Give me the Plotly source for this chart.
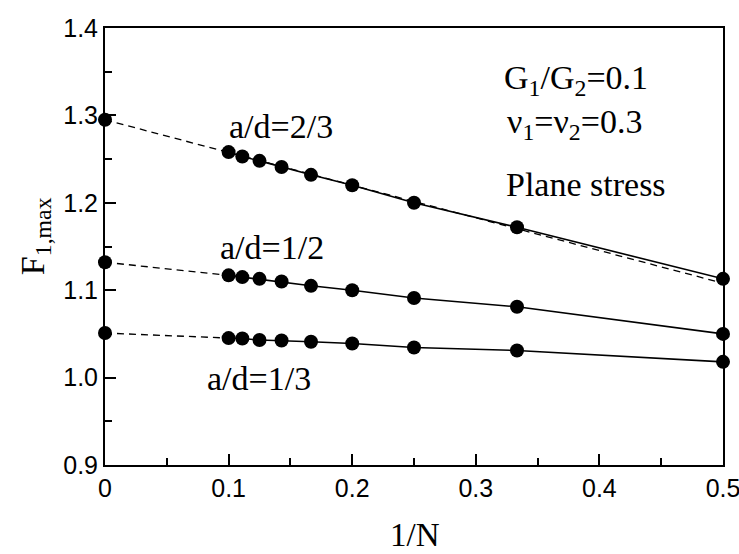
import plotly.graph_objects as go

# ---- data ----
inv_n = [0.1, 1/9, 0.125, 1/7, 1/6, 0.2, 0.25, 1/3, 0.5]          # 1/N
f_23 = [1.258, 1.253, 1.248, 1.241, 1.232, 1.220, 1.200, 1.172, 1.113]  # a/d=2/3
f_12 = [1.117, 1.115, 1.113, 1.110, 1.105, 1.100, 1.091, 1.081, 1.050]  # a/d=1/2
f_13 = [1.0452, 1.0447, 1.043, 1.0424, 1.041, 1.039, 1.0344, 1.031, 1.018]  # a/d=1/3

extrap_x = [0.0]
extrap_23 = [1.295]
extrap_12 = [1.132]
extrap_13 = [1.051]

fit_23_x = [0.0, 0.5]
fit_23_y = [1.295, 1.108]
fit_12_x = [0.0, 0.1]
fit_12_y = [1.132, 1.117]
fit_13_x = [0.0, 0.1]
fit_13_y = [1.051, 1.0452]

x_ticks = [0, 0.1, 0.2, 0.3, 0.4, 0.5]
x_tick_labels = ["0", "0.1", "0.2", "0.3", "0.4", "0.5"]
y_ticks = [0.9, 1.0, 1.1, 1.2, 1.3, 1.4]
y_tick_labels = ["0.9", "1.0", "1.1", "1.2", "1.3", "1.4"]

curve_labels = ["a/d=2/3", "a/d=1/2", "a/d=1/3"]

fig = go.Figure()

dash_style = dict(color="black", width=1.3, dash="7px,5px")
for fx, fy in [(fit_23_x, fit_23_y), (fit_12_x, fit_12_y), (fit_13_x, fit_13_y)]:
    fig.add_trace(go.Scatter(x=fx, y=fy, mode="lines", line=dash_style,
                             showlegend=False, hoverinfo="skip"))

for ys, e in [(f_23, extrap_23), (f_12, extrap_12), (f_13, extrap_13)]:
    fig.add_trace(go.Scatter(x=inv_n, y=ys, mode="lines+markers",
                             line=dict(color="black", width=1.6),
                             marker=dict(color="black", size=14),
                             cliponaxis=False, showlegend=False))
    fig.add_trace(go.Scatter(x=extrap_x, y=e, mode="markers",
                             marker=dict(color="black", size=14),
                             cliponaxis=False, showlegend=False))

serif = "Liberation Serif, Times New Roman, serif"
ann_font = dict(family=serif, size=34, color="black")

annotations = [
    dict(x=0.1425, y=1.287, text=curve_labels[0]),
    dict(x=0.135, y=1.149, text=curve_labels[1]),
    dict(x=0.1247, y=0.9995, text=curve_labels[2]),
    dict(x=0.381, y=1.3405, text="G<sub>1</sub>/G<sub>2</sub>=0.1"),
    dict(x=0.38, y=1.290, text="ν<sub>1</sub>=ν<sub>2</sub>=0.3"),
    dict(x=0.3895, y=1.2215, text="Plane stress"),
]
for a in annotations:
    fig.add_annotation(xref="x", yref="y", showarrow=False, font=ann_font,
                       xanchor="center", yanchor="middle", **a)

# axis titles
fig.add_annotation(xref="paper", yref="paper", x=-0.113, y=0.524,
                   xanchor="center", yanchor="middle",
                   text="F<sub>1,max</sub>", textangle=-90, showarrow=False,
                   font=dict(family=serif, size=34, color="black"))
fig.add_annotation(xref="paper", yref="paper", x=0.502, y=-0.16,
                   xanchor="center", yanchor="middle",
                   text="1/N", showarrow=False,
                   font=dict(family=serif, size=33, color="black"))

tick_font = dict(family="Liberation Sans, Arial, sans-serif", size=25, color="black")
axis_common = dict(showgrid=False, zeroline=False, showline=True, linecolor="black",
                   linewidth=2, mirror=True, ticks="inside", ticklen=11, tickwidth=1.5,
                   tickcolor="black", tickfont=tick_font, ticklabeloverflow="allow",
                   automargin=False)

fig.update_xaxes(range=[0, 0.5], tickvals=x_ticks, ticktext=x_tick_labels,
                 minor=dict(ticks="inside", dtick=0.05, ticklen=7, tickwidth=1.5, tickcolor="black"),
                 **axis_common)
fig.update_yaxes(range=[0.9, 1.4], tickvals=y_ticks, ticktext=y_tick_labels,
                 minor=dict(ticks="inside", dtick=0.05, ticklen=7, tickwidth=1.5, tickcolor="black"),
                 **axis_common)

fig.update_layout(width=739, height=554,
                  margin=dict(l=105, r=16, t=28, b=89, autoexpand=False),
                  paper_bgcolor="white", plot_bgcolor="white")

fig.write_html("out.html", config={"displayModeBar": False},
               post_script="document.body.style.margin='0';document.body.style.overflow='hidden';")
